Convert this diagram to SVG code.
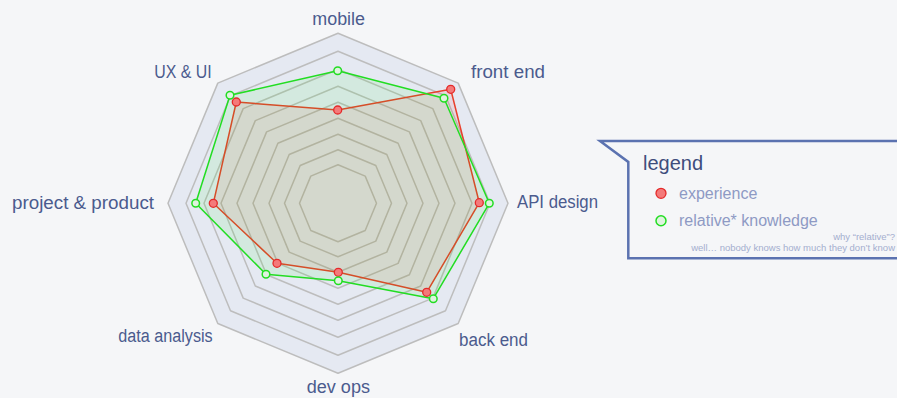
<svg xmlns="http://www.w3.org/2000/svg" width="897" height="398" viewBox="0 0 897 398">
  <style>
    .grid { fill: none; stroke: #bdbdbd; stroke-width: 1.5; stroke-linejoin: round; }
    .outer { fill: #e5e9f2; stroke: #bdbdbd; stroke-width: 1.5; stroke-linejoin: round; }
    .axis-label { font-family: "Liberation Sans", Arial, sans-serif; font-size: 18px; fill: #4b5b8e; }
    .exp-area { fill: #ff0000; fill-opacity: 0.08; stroke: #e8402c; stroke-width: 1.5; stroke-linejoin: round; }
    .know-area { fill: #00ee00; fill-opacity: 0.08; stroke: #22dd22; stroke-width: 1.5; stroke-linejoin: round; }
    .exp-dot { fill: #f47a7a; stroke: #e42a2a; stroke-width: 1.3; }
    .know-dot { fill: #dff3df; stroke: #22dd22; stroke-width: 1.5; }
    .legend-title { font-family: "Liberation Sans", Arial, sans-serif; font-size: 20px; fill: #3e4d7c; }
    .legend-item { font-family: "Liberation Sans", Arial, sans-serif; font-size: 16px; fill: #8e9ac4; }
    .legend-note { font-family: "Liberation Sans", Arial, sans-serif; font-size: 9.5px; fill: #a4aecf; }
  </style>
  <rect x="0" y="0" width="897" height="398" fill="#f5f6f8"/>

  <g id="grid">
    <polygon class="outer" points="338,33.3 458.2,83.1 508,203.3 458.2,323.5 338,373.3 217.8,323.5 168,203.3 217.8,83.1"/>
    <polygon class="grid" points="338,51.3 445.5,95.8 490,203.3 445.5,310.8 338,355.3 230.5,310.8 186,203.3 230.5,95.8"/>
    <polygon class="grid" points="338,69.3 432.8,108.6 472,203.3 432.8,298.1 338,337.3 243.2,298.1 204,203.3 243.2,108.6"/>
    <polygon class="grid" points="338,86.3 420.7,120.6 455,203.3 420.7,286 338,320.3 255.3,286 221,203.3 255.3,120.6"/>
    <polygon class="grid" points="338,102.3 409.4,131.9 439,203.3 409.4,274.7 338,304.3 266.6,274.7 237,203.3 266.6,131.9"/>
    <polygon class="grid" points="338,118.3 398.1,143.2 423,203.3 398.1,263.4 338,288.3 277.9,263.4 253,203.3 277.9,143.2"/>
    <polygon class="grid" points="338,134.3 386.8,154.5 407,203.3 386.8,252.1 338,272.3 289.2,252.1 269,203.3 289.2,154.5"/>
    <polygon class="grid" points="338,149.8 375.8,165.5 391.5,203.3 375.8,241.1 338,256.8 300.2,241.1 284.5,203.3 300.2,165.5"/>
    <polygon class="grid" points="338,164.8 365.2,176.1 376.5,203.3 365.2,230.5 338,241.8 310.8,230.5 299.5,203.3 310.8,176.1"/>
  </g>

  <g id="series-experience">
    <polygon class="exp-area" points="337.7,110 450.7,89.3 479.3,202.7 426.7,292.3 338.3,272.3 277,263.3 213.3,203.3 236.3,102"/>
  </g>
  <g id="series-knowledge">
    <polygon class="know-area" points="337.7,70.7 444,98.3 489.3,203.3 433.3,298.7 338.3,280.7 266,274.3 195.7,203.3 230,95.3"/>
  </g>
  <g id="dots-experience">
    <circle class="exp-dot" cx="337.7" cy="110" r="4"/>
    <circle class="exp-dot" cx="450.7" cy="89.3" r="4"/>
    <circle class="exp-dot" cx="479.3" cy="202.7" r="4"/>
    <circle class="exp-dot" cx="426.7" cy="292.3" r="4"/>
    <circle class="exp-dot" cx="338.3" cy="272.3" r="4"/>
    <circle class="exp-dot" cx="277" cy="263.3" r="4"/>
    <circle class="exp-dot" cx="213.3" cy="203.3" r="4"/>
    <circle class="exp-dot" cx="236.3" cy="102" r="4"/>
  </g>
  <g id="dots-knowledge">
    <circle class="know-dot" cx="337.7" cy="70.7" r="3.8"/>
    <circle class="know-dot" cx="444" cy="98.3" r="3.8"/>
    <circle class="know-dot" cx="489.3" cy="203.3" r="3.8"/>
    <circle class="know-dot" cx="433.3" cy="298.7" r="3.8"/>
    <circle class="know-dot" cx="338.3" cy="280.7" r="3.8"/>
    <circle class="know-dot" cx="266" cy="274.3" r="3.8"/>
    <circle class="know-dot" cx="195.7" cy="203.3" r="3.8"/>
    <circle class="know-dot" cx="230" cy="95.3" r="3.8"/>
  </g>

  <g id="axis-labels">
    <text class="axis-label" x="312.3" y="25" textLength="52.7" lengthAdjust="spacingAndGlyphs">mobile</text>
    <text class="axis-label" x="471" y="78" textLength="74" lengthAdjust="spacingAndGlyphs">front end</text>
    <text class="axis-label" x="517" y="208" textLength="81" lengthAdjust="spacingAndGlyphs">API design</text>
    <text class="axis-label" x="459" y="345.5" textLength="69" lengthAdjust="spacingAndGlyphs">back end</text>
    <text class="axis-label" x="306.7" y="392.5" textLength="63.3" lengthAdjust="spacingAndGlyphs">dev ops</text>
    <text class="axis-label" x="118.3" y="341.7" textLength="94.4" lengthAdjust="spacingAndGlyphs">data analysis</text>
    <text class="axis-label" x="12" y="209.3" textLength="142" lengthAdjust="spacingAndGlyphs">project &amp; product</text>
    <text class="axis-label" x="154.3" y="78.3" textLength="57.4" lengthAdjust="spacingAndGlyphs">UX &amp; UI</text>
  </g>

  <g id="legend">
    <path d="M600,141 L905,141 L905,258.3 L628.3,258.3 L628.3,162 Z" fill="#f5f6f8" stroke="#5b72b0" stroke-width="2.5" stroke-linejoin="miter"/>
    <text class="legend-title" x="643" y="170">legend</text>
    <circle class="exp-dot" cx="661" cy="193.3" r="5"/>
    <text class="legend-item" x="679" y="198.5">experience</text>
    <circle class="know-dot" cx="661" cy="220.7" r="5"/>
    <text class="legend-item" x="679" y="225.5">relative* knowledge</text>
    <text class="legend-note" x="895" y="240" text-anchor="end">why “relative”?</text>
    <text class="legend-note" x="895" y="251" text-anchor="end">well… nobody knows how much they don’t know</text>
  </g>
</svg>
